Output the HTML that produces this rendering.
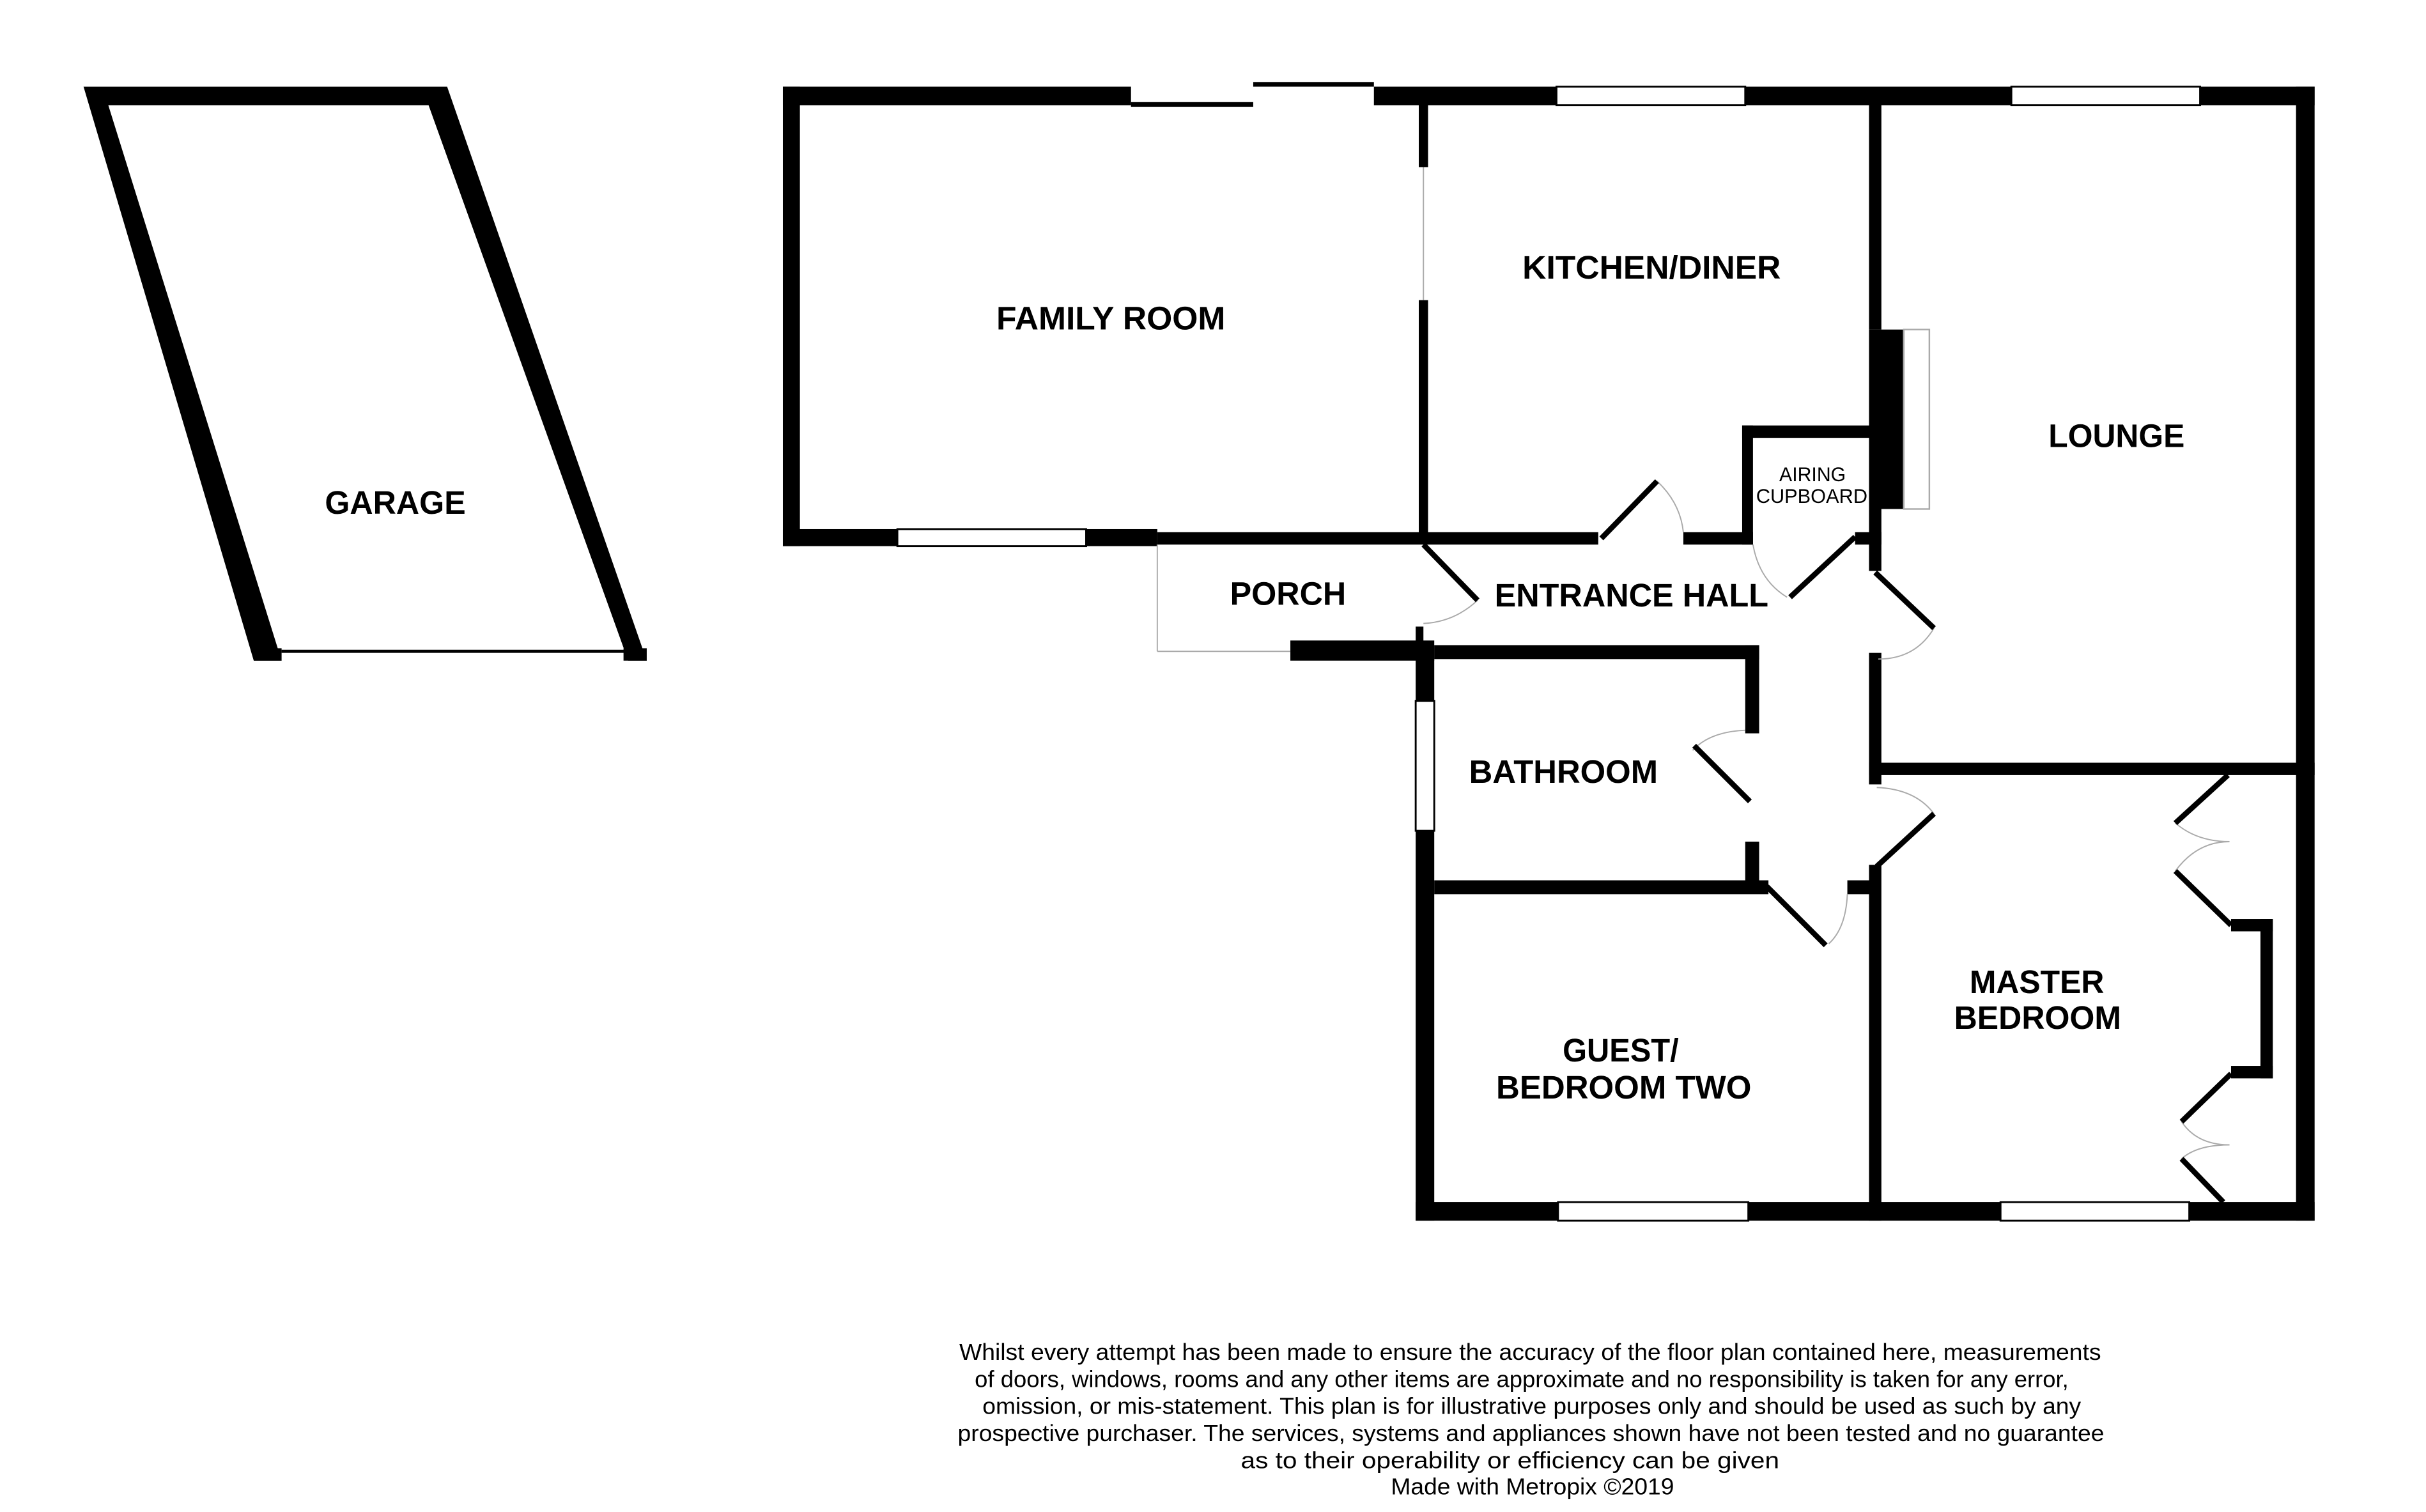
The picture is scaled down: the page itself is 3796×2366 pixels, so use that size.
<!DOCTYPE html>
<html><head><meta charset="utf-8"><style>
html,body{margin:0;padding:0;background:#fff;}
svg{display:block;}
text{font-family:"Liberation Sans",Arial,sans-serif;font-weight:bold;fill:#000;}
.d{font-weight:normal;font-size:15px;}
</style></head><body>
<svg width="3796" height="2366" viewBox="0 0 1568 977.3" xmlns="http://www.w3.org/2000/svg">
<rect width="1568" height="977.3" fill="#fff"/>
<!-- Garage -->
<g fill="#000">
<polygon points="54,56 289,56 418,427 406,427 277,68 70,68 182,427 164,427"/>
<rect x="164" y="419" width="18" height="8"/>
<rect x="403" y="419" width="15" height="8"/>
</g>
<line x1="182" y1="421" x2="406" y2="421" stroke="#000" stroke-width="2"/>
<!-- Walls black -->
<g fill="#000">
<rect x="506" y="56" width="11" height="297"/>
<rect x="506" y="56" width="225" height="12"/>
<rect x="731" y="66" width="79" height="3"/>
<rect x="810" y="53" width="78" height="3"/>
<rect x="888" y="56" width="608" height="12"/>
<rect x="506" y="342" width="74" height="11"/>
<rect x="702" y="342" width="46" height="11"/>
<rect x="748" y="344" width="285" height="8"/>
<rect x="1088" y="344" width="45" height="8"/>
<rect x="917" y="66" width="6" height="42"/>
<rect x="917" y="194" width="6" height="157"/>
<!-- right outer -->
<rect x="1484" y="56" width="12" height="733"/>
<!-- bottom -->
<rect x="915" y="777" width="92" height="12"/>
<rect x="1130" y="777" width="163" height="12"/>
<rect x="1415" y="777" width="81" height="12"/>
<!-- lower left -->
<rect x="915" y="417" width="12" height="36"/>
<rect x="915" y="537" width="12" height="252"/>
<rect x="834" y="414" width="93" height="13"/>
<rect x="915" y="405" width="5" height="12"/>
<!-- bathroom -->
<rect x="927" y="417" width="210" height="9"/>
<rect x="1128" y="417" width="9" height="57"/>
<rect x="1128" y="544" width="9" height="32"/>
<rect x="927" y="569" width="216" height="9"/>
<rect x="1194" y="569" width="20" height="9"/>
<!-- partitions -->
<rect x="1208" y="559" width="8" height="230"/>
<rect x="1208" y="422" width="8" height="85"/>
<rect x="1208" y="493" width="288" height="8"/>
<rect x="1208" y="66" width="8" height="147"/>
<rect x="1208" y="213" width="22" height="116"/>
<rect x="1208" y="329" width="8" height="40"/>
<rect x="1199" y="344" width="17" height="8"/>
<!-- airing cupboard -->
<rect x="1126" y="275" width="90" height="8"/>
<rect x="1126" y="275" width="7" height="77"/>
<!-- master wardrobe -->
<rect x="1442" y="594" width="27" height="8"/>
<rect x="1461" y="594" width="8" height="103"/>
<rect x="1442" y="689" width="27" height="8"/>
</g>
<!-- windows -->
<g fill="#fff" stroke="#000" stroke-width="1.2">
<rect x="580" y="342" width="122" height="11"/>
<rect x="1006" y="56" width="122" height="12"/>
<rect x="1300" y="56" width="122" height="12"/>
<rect x="1007" y="777" width="123" height="12"/>
<rect x="1293" y="777" width="122" height="12"/>
<rect x="915" y="453" width="12" height="84"/>
</g>
<rect x="1230.5" y="213" width="16.5" height="116" fill="#fff" stroke="#aaa" stroke-width="1"/>
<!-- thin grey lines -->
<g stroke="#aaa" stroke-width="0.8" fill="none">
<line x1="920" y1="108" x2="920" y2="194"/>
<line x1="748" y1="352" x2="748" y2="421"/>
<line x1="748" y1="421" x2="834" y2="421"/>
<path d="M1071,311 Q1086,325 1088,344"/>
<path d="M920,403 Q940,402 955,388"/>
<path d="M1133,352 Q1137,375 1155,386"/>
<path d="M1214,426 Q1238,426 1250,406"/>
<path d="M1094,485 Q1105,473 1128,472"/>
<path d="M1213,509 Q1238,510 1250,526"/>
<path d="M1182,610 Q1193,600 1194,578"/>
<path d="M1406,532 Q1420,544 1441,544 Q1420,544 1406,563"/>
<path d="M1410,725 Q1420,740 1441,740 Q1420,740 1410,749"/>
</g>
<!-- door leaves -->
<g stroke="#000" stroke-width="3.5" fill="none">
<line x1="1035" y1="348" x2="1071" y2="311"/>
<line x1="920" y1="352" x2="955" y2="388"/>
<line x1="1157" y1="386" x2="1199" y2="347"/>
<line x1="1212" y1="370" x2="1250" y2="406"/>
<line x1="1095" y1="482" x2="1131" y2="518"/>
<line x1="1213" y1="560" x2="1250" y2="526"/>
<line x1="1142" y1="573" x2="1180" y2="611"/>
<line x1="1406" y1="532" x2="1440" y2="501"/>
<line x1="1406" y1="563" x2="1442" y2="598"/>
<line x1="1410" y1="725" x2="1442" y2="694"/>
<line x1="1410" y1="749" x2="1437" y2="777"/>
</g>
<!-- labels -->
<g font-size="21" lengthAdjust="spacingAndGlyphs">
<text x="210" y="332" textLength="91" lengthAdjust="spacingAndGlyphs">GARAGE</text>
<text x="644" y="213" textLength="148" lengthAdjust="spacingAndGlyphs">FAMILY ROOM</text>
<text x="984" y="180" textLength="167" lengthAdjust="spacingAndGlyphs">KITCHEN/DINER</text>
<text x="1324" y="289" textLength="88" lengthAdjust="spacingAndGlyphs">LOUNGE</text>
<text x="795" y="391" textLength="75" lengthAdjust="spacingAndGlyphs">PORCH</text>
<text x="966" y="392" textLength="177" lengthAdjust="spacingAndGlyphs">ENTRANCE HALL</text>
<text x="949.5" y="506" textLength="122" lengthAdjust="spacingAndGlyphs">BATHROOM</text>
<text x="1273" y="642" textLength="87" lengthAdjust="spacingAndGlyphs">MASTER</text>
<text x="1263" y="665" textLength="108" lengthAdjust="spacingAndGlyphs">BEDROOM</text>
<text x="1010" y="686" textLength="75" lengthAdjust="spacingAndGlyphs">GUEST/</text>
<text x="967" y="710" textLength="165" lengthAdjust="spacingAndGlyphs">BEDROOM TWO</text>
</g>
<g font-size="13">
<text x="1150" y="311" textLength="43" lengthAdjust="spacingAndGlyphs" style="font-weight:normal">AIRING</text>
<text x="1135" y="325" textLength="72" lengthAdjust="spacingAndGlyphs" style="font-weight:normal">CUPBOARD</text>
</g>
<g>
<text class="d" x="620" y="879" textLength="738" lengthAdjust="spacingAndGlyphs">Whilst every attempt has been made to ensure the accuracy of the floor plan contained here, measurements</text>
<text class="d" x="630" y="896.5" textLength="707" lengthAdjust="spacingAndGlyphs">of doors, windows, rooms and any other items are approximate and no responsibility is taken for any error,</text>
<text class="d" x="635" y="914" textLength="710" lengthAdjust="spacingAndGlyphs">omission, or mis-statement. This plan is for illustrative purposes only and should be used as such by any</text>
<text class="d" x="619" y="931.5" textLength="741" lengthAdjust="spacingAndGlyphs">prospective purchaser. The services, systems and appliances shown have not been tested and no guarantee</text>
<text class="d" x="802" y="949" textLength="348" lengthAdjust="spacingAndGlyphs">as to their operability or efficiency can be given</text>
<text class="d" x="899" y="966" textLength="183" lengthAdjust="spacingAndGlyphs">Made with Metropix ©2019</text>
</g>
</svg>
</body></html>
